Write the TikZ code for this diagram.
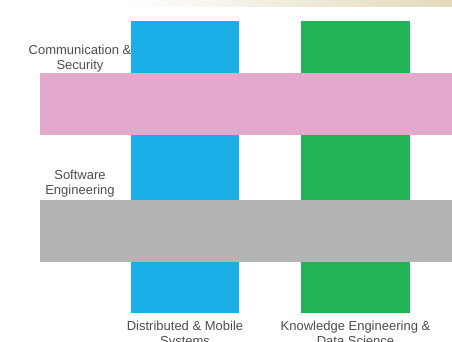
\documentclass[tikz,border=0pt]{standalone}
\usepackage{fontspec}
\setmainfont{Liberation Sans}
\definecolor{dmsblue}{HTML}{1AAFE6}
\definecolor{kedgreen}{HTML}{22B357}
\definecolor{cspink}{HTML}{E2A9CC}
\definecolor{segray}{HTML}{B3B5B5}
\definecolor{topbeige}{HTML}{E2DAB9}
\definecolor{labelgray}{HTML}{4D4D4D}
\begin{document}
\begin{tikzpicture}[x=1pt,y=-1pt,line join=round,line cap=round,
  lbl/.style={text=labelgray,align=center,inner sep=0pt,anchor=north,
    font=\fontsize{13}{15}\selectfont}]
\useasboundingbox (0,0) rectangle (452,342);
\fill[white] (0,0) rectangle (452,342);
\shade[left color=white,right color=topbeige] (120,0) rectangle (452,7);
% vertical bars
\fill[dmsblue] (131,21) rectangle (239,313);
\fill[kedgreen] (301,21) rectangle (410,313);
% horizontal bands
\fill[cspink] (40,73) rectangle (452,135);
\fill[segray] (40,200) rectangle (452,262);
\node[lbl] (cs) at (80,44.5) {Communication \&\\Security};
\node[lbl] (se) at (80,170) {Software\\Engineering};
\node[lbl] (dms) at (185,320.5) {Distributed \& Mobile\\Systems};
\node[lbl] (ked) at (355.5,320.5) {Knowledge Engineering \&\\Data Science};
\end{tikzpicture}
\end{document}
